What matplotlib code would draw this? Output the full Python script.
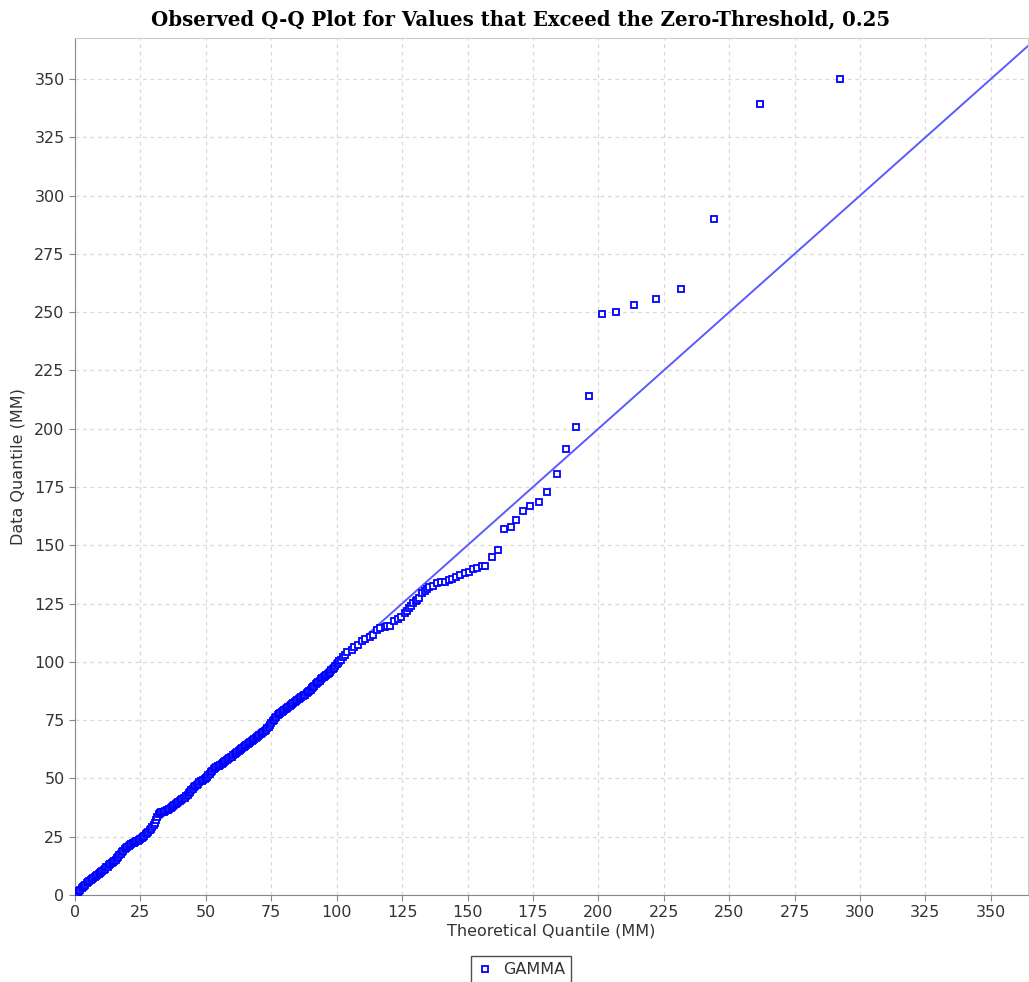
import numpy as np
import matplotlib
matplotlib.use("Agg")
from matplotlib import pyplot as plt

# dense part of the Q-Q band (MM)
band_theo = [0.5, 1.0, 1.5, 2.0, 2.5, 3.0, 3.5, 4.0, 4.5, 5.0,
             5.5, 6.0, 6.5, 7.0, 7.5, 8.0, 8.5, 9.0, 9.5, 10.0,
             10.5, 11.0, 11.5, 12.0, 12.5, 13.0, 13.5, 14.0, 14.5, 15.0,
             15.5, 16.0, 16.5, 17.0, 17.5, 18.0, 18.5, 19.0, 19.5, 20.0,
             20.5, 21.0, 21.5, 22.0, 22.5, 23.0, 23.5, 24.0, 24.5, 25.0,
             25.5, 26.0, 26.5, 27.0, 27.5, 28.0, 28.5, 29.0, 29.5, 30.0,
             30.5, 31.0, 31.5, 32.0, 32.5, 33.0, 33.5, 34.0, 34.5, 35.0,
             35.5, 36.0, 36.5, 37.0, 37.5, 38.0, 38.5, 39.0, 39.5, 40.0,
             40.5, 41.0, 41.5, 42.0, 42.5, 43.0, 43.5, 44.0, 44.5, 45.0,
             45.5, 46.0, 46.5, 47.0, 47.5, 48.0, 48.5, 49.0, 49.5, 50.0,
             50.5, 51.0, 51.5, 52.0, 52.5, 53.0, 53.5, 54.0, 54.5, 55.0,
             55.5, 56.0, 56.5, 57.0, 57.5, 58.0, 58.5, 59.0, 59.5, 60.0,
             60.5, 61.0, 61.5, 62.0, 62.5, 63.0, 63.5, 64.0, 64.5, 65.0,
             65.5, 66.0, 66.5, 67.0, 67.5, 68.0, 68.5, 69.0, 69.5, 70.0,
             70.5, 71.0, 71.5, 72.0, 72.5, 73.0, 73.5, 74.0, 74.5, 75.0,
             75.5, 76.0, 76.5, 77.0, 77.5, 78.0, 78.5, 79.0, 79.5, 80.0,
             80.5, 81.0, 81.5, 82.0, 82.5, 83.0, 83.5, 84.0, 84.5, 85.0,
             85.5, 86.0, 86.5, 87.0, 87.5, 88.0, 88.5, 89.0, 89.5, 90.0,
             90.5, 91.0, 91.5, 92.0, 92.5, 93.0, 93.5, 94.0, 94.5, 95.0,
             95.5, 96.0, 96.5, 97.0, 97.5, 98.0, 98.5, 99.0, 99.5, 100.0,
             100.5, 101.0, 101.5]
band_data = [0.6, 1.1, 1.7, 2.2, 2.8, 3.4, 3.9, 4.5, 5.0, 5.6,
             6.1, 6.5, 7.0, 7.4, 7.8, 8.3, 8.7, 9.2, 9.6, 10.0,
             10.4, 10.9, 11.3, 11.8, 12.2, 12.7, 13.1, 13.6, 14.0, 14.5,
             15.1, 15.7, 16.4, 17.1, 17.8, 18.4, 19.0, 19.6, 20.1, 20.6,
             21.0, 21.4, 21.8, 22.1, 22.4, 22.7, 23.0, 23.3, 23.6, 23.9,
             24.3, 24.8, 25.4, 26.0, 26.6, 27.2, 27.8, 28.5, 29.2, 30.0,
             30.9, 32.0, 33.5, 34.9, 35.3, 35.5, 35.6, 35.8, 36.0, 36.3,
             36.6, 37.0, 37.4, 37.8, 38.2, 38.6, 39.0, 39.4, 39.8, 40.2,
             40.6, 41.0, 41.4, 41.8, 42.3, 42.9, 43.6, 44.3, 45.0, 45.6,
             46.2, 46.8, 47.3, 47.8, 48.3, 48.7, 49.1, 49.5, 49.9, 50.3,
             50.8, 51.3, 51.9, 52.6, 53.4, 54.1, 54.5, 54.9, 55.2, 55.5,
             55.8, 56.2, 56.6, 57.0, 57.4, 57.8, 58.2, 58.6, 59.0, 59.4,
             59.9, 60.3, 60.8, 61.2, 61.7, 62.1, 62.6, 63.0, 63.5, 63.9,
             64.3, 64.7, 65.2, 65.6, 66.0, 66.4, 66.9, 67.3, 67.7, 68.1,
             68.6, 69.0, 69.5, 69.9, 70.4, 70.9, 71.5, 72.2, 73.0, 73.8,
             74.6, 75.2, 75.8, 76.4, 77.0, 77.5, 78.0, 78.4, 78.8, 79.2,
             79.6, 80.1, 80.5, 80.9, 81.4, 81.8, 82.3, 82.7, 83.1, 83.5,
             83.9, 84.3, 84.8, 85.2, 85.6, 86.0, 86.5, 86.9, 87.5, 88.0,
             88.6, 89.1, 89.7, 90.3, 90.9, 91.4, 92.0, 92.5, 93.0, 93.4,
             93.9, 94.4, 94.8, 95.3, 95.8, 96.3, 96.9, 97.5, 98.2, 98.9,
             99.6, 100.3, 101.0]

# sparser upper tail
tail_theo = [102.3, 103.2, 104.1, 105.8, 106.7, 108.3, 109.6, 110.8, 112.7, 113.8, 115.5,
             116.5, 118.6, 119.3, 120.4, 121.9, 123.3, 124.5, 126.0, 126.7, 127.5, 128.4,
             129.2, 130.2, 130.8, 131.6, 132.7, 133.7, 134.6, 135.4, 136.8, 138.4, 139.9,
             141.4, 142.9, 143.9, 145.6, 147.2, 148.9, 150.4, 152.1, 153.5, 155.6, 156.8,
             159.5, 161.6, 163.8, 166.5, 168.5, 171.2, 174.0, 177.2, 180.4, 184.1, 187.7,
             191.6, 196.3, 201.4, 206.7, 213.6, 222.0, 231.6, 244.2, 261.8, 292.3]
tail_data = [102.0, 103.0, 104.4, 105.1, 106.5, 107.1, 108.8, 109.8, 110.6, 111.5, 113.7,
             114.4, 115.1, 115.4, 115.5, 117.7, 118.5, 119.4, 120.8, 121.7, 123.0, 124.0,
             125.1, 126.1, 126.7, 127.4, 129.4, 130.5, 131.3, 132.3, 132.7, 133.7, 134.1,
             134.4, 135.1, 135.6, 136.6, 137.4, 138.3, 138.7, 140.0, 140.3, 141.0, 141.1,
             145.1, 148.0, 157.1, 157.7, 160.7, 164.9, 166.8, 168.5, 172.8, 180.5, 191.3,
             200.9, 214.2, 249.2, 250.1, 253.1, 255.7, 260.0, 290.0, 339.3, 350.0]

theo_q = band_theo + tail_theo
data_q = band_data + tail_data

x_max = 364.2
y_max = 367.6
ticks = np.arange(0, 351, 25)

fig = plt.figure(figsize=(10.29, 9.82), dpi=100)
ax = fig.add_axes([75/1029, 1-895/982, (1028-75)/1029, (895-38)/982])

ax.plot([0, x_max], [0, x_max], color="#5a5aff", lw=1.4, zorder=2)
ax.plot(theo_q, data_q, ls="none", marker="s", ms=4.4, mfc="white", mec="#0000ff",
        mew=1.3, zorder=3, label="GAMMA")

ax.set_xlim(0, x_max)
ax.set_ylim(0, y_max)
ax.set_xticks(ticks)
ax.set_yticks(ticks)
ax.grid(True, color="#d9d9d9", ls=(0, (3, 3)), lw=0.9)
ax.set_axisbelow(True)
ax.tick_params(direction="out", length=4, color="#888888", labelsize=11.5,
               labelcolor="#333333")
for side in ["left", "bottom"]:
    ax.spines[side].set_color("#888888")
for side in ["top", "right"]:
    ax.spines[side].set_color("#cccccc")

ax.set_xlabel("Theoretical Quantile (MM)", fontsize=11.5, color="#333333", labelpad=2)
ax.set_ylabel("Data Quantile (MM)", fontsize=11.5, color="#333333", labelpad=6)
fig.suptitle("Observed Q-Q Plot for Values that Exceed the Zero-Threshold, 0.25",
             x=521/1029, y=1-9/982, va="top", fontsize=14.2, fontweight="bold",
             family="DejaVu Serif")

leg = fig.legend(loc="upper center", bbox_to_anchor=(521/1029, 1-956/982),
                 borderaxespad=0, fontsize=11.5, frameon=True, fancybox=False,
                 handlelength=1, handletextpad=0.6, borderpad=0.4)
leg.get_frame().set_edgecolor("#222222")
leg.get_frame().set_linewidth(1.0)
for t in leg.get_texts():
    t.set_color("#333333")

fig.savefig("out.png", dpi=100)
